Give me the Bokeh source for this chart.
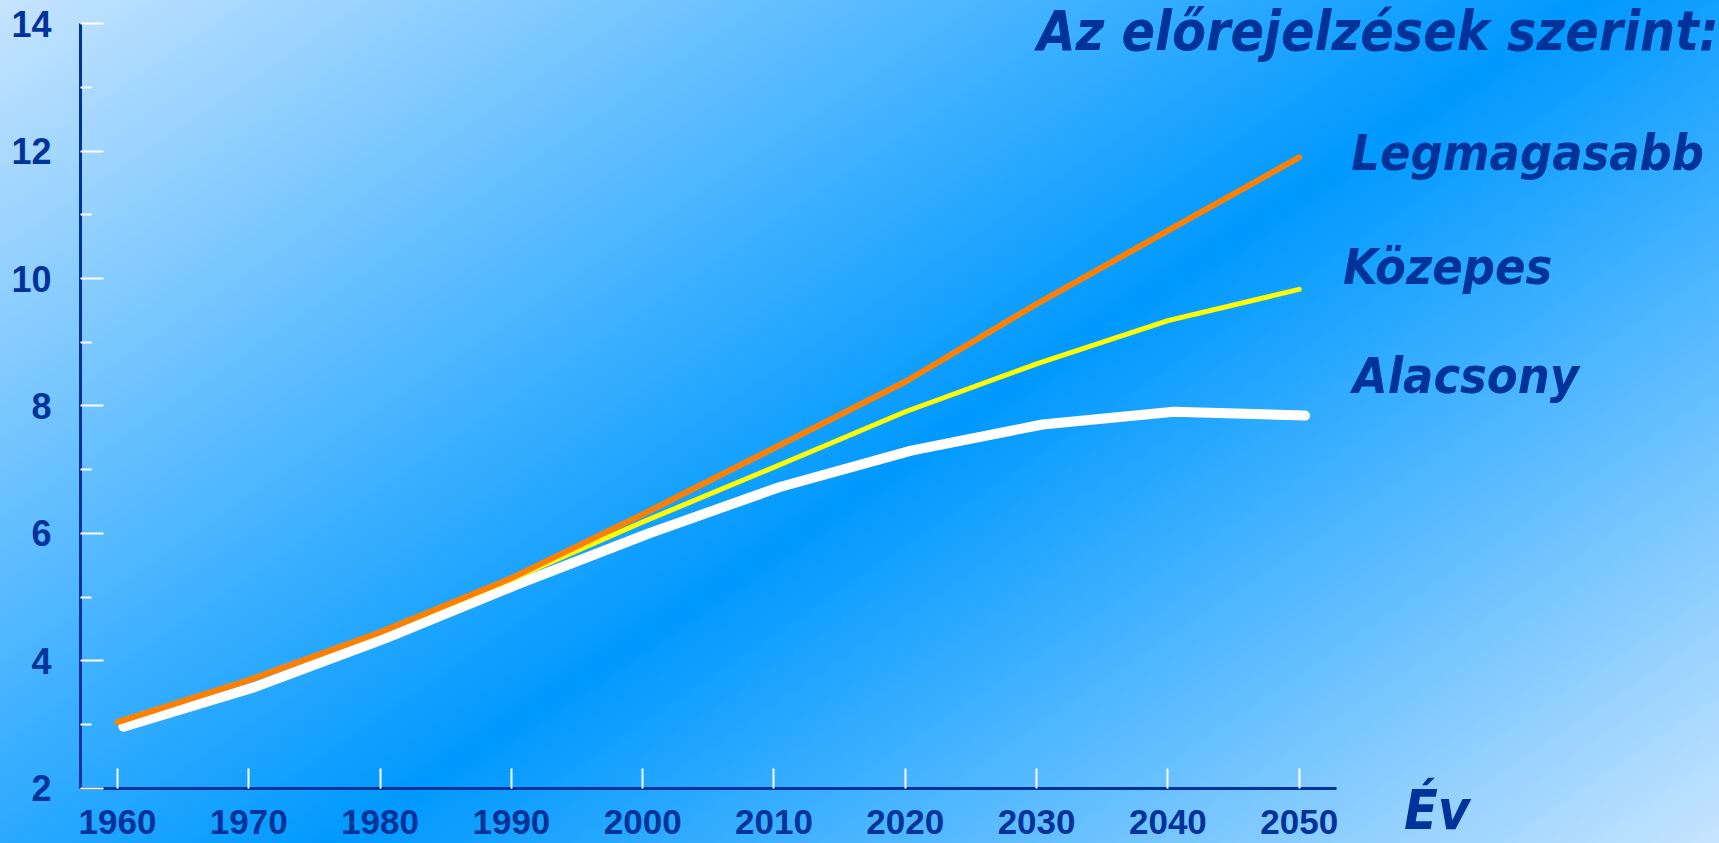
from bokeh.plotting import figure
from bokeh.models import Range1d, FixedTicker, Label, ColumnDataSource
from bokeh.transform import dodge
from bokeh.embed import file_html
from bokeh.resources import INLINE

# ---- data (world population, billions) ----
years = [1960, 1970, 1980, 1990, 2000, 2010, 2020, 2030, 2040, 2050]
legmagasabb = [3.04, 3.70, 4.45, 5.30, 6.30, 7.34, 8.38, 9.60, 10.75, 11.90]
kozepes = [3.04, 3.70, 4.45, 5.28, 6.18, 7.04, 7.91, 8.66, 9.34, 9.83]
alacsony = [2.97, 3.59, 4.36, 5.20, 6.00, 6.73, 7.30, 7.71, 7.91, 7.85]
y_ticks = [2, 4, 6, 8, 10, 12, 14]
y_minor_ticks = [3, 5, 7, 9, 11, 13]
title_text = "Az előrejelzések szerint:"
label_high = "Legmagasabb"
label_mid = "Közepes"
label_low = "Alacsony"
x_title = "Év"

BLUE = "#003399"
W, H = 1719, 843
LABEL_FONT = "DejaVu Sans Condensed, DejaVu Sans"

# axis extents (data units)
X_AXIS_START, X_AXIS_END = 1957.18, 2052.83
Y_AXIS_START, Y_AXIS_END = 2, 14

p = figure(width=W, height=H, output_backend="svg", toolbar_location=None,
           x_range=Range1d(1951.09, 2082.01), y_range=Range1d(1.137, 14.361),
           min_border=0,
           background_fill_color=None, border_fill_color=None)
p.outline_line_color = None
p.grid.visible = False
p.styles = {
    "position": "absolute", "left": "0px", "top": "0px",
    "background-image": "linear-gradient(146deg, #c6e4ff 0%, #0099ff 53.5%, #c6e4ff 100%)",
}

for ax in (p.xaxis[0], p.yaxis[0]):
    ax.axis_line_color = BLUE
    ax.axis_line_width = 3
    ax.major_tick_line_color = "white"
    ax.major_tick_line_width = 2
    ax.major_tick_out = 0
    ax.minor_tick_out = 0
    ax.major_label_text_font = "Liberation Sans"
    ax.major_label_text_font_style = "bold"
    ax.major_label_text_color = BLUE

xa = p.xaxis[0]
xa.fixed_location = Y_AXIS_START
xa.bounds = (X_AXIS_START, X_AXIS_END)
xa.ticker = FixedTicker(ticks=years, minor_ticks=[])
xa.major_tick_in = 20
xa.minor_tick_line_color = None
xa.major_label_text_font_size = "35px"
xa.major_label_standoff = 22

ya = p.yaxis[0]
ya.fixed_location = X_AXIS_START
ya.bounds = (Y_AXIS_START, Y_AXIS_END)
ya.ticker = FixedTicker(ticks=y_ticks, minor_ticks=y_minor_ticks)
ya.major_tick_in = 23
ya.minor_tick_in = 11
ya.minor_tick_line_color = "white"
ya.minor_tick_line_width = 2
ya.major_label_text_font_size = "36px"
ya.major_label_standoff = 29

src = ColumnDataSource(dict(year=years, high=legmagasabb, mid=kozepes, low=alacsony))
p.line(x=dodge("year", 0.45, range=p.x_range), y="low", source=src,
       line_color="white", line_width=10, line_cap="round", line_join="round")
p.line(x="year", y="mid", source=src,
       line_color="#ffff00", line_width=5, line_cap="round", line_join="round")
p.line(x="year", y="high", source=src,
       line_color="#ff8000", line_width=6, line_cap="round", line_join="round")


def add_label(text, x, y, size):
    p.add_layout(Label(x=x, y=y, text=text, text_font=LABEL_FONT,
                       text_font_style="bold italic", text_font_size=size,
                       text_color=BLUE, text_align="center",
                       text_baseline="alphabetic"))


add_label(title_text, 2056.0, 13.89, "55px")
add_label(label_high, 2067.4, 11.961, "50px")
add_label(label_mid, 2061.3, 10.188, "50px")
add_label(label_low, 2062.7, 8.463, "50px")
add_label(x_title, 2060.5, 1.655, "55px")

open("out.html", "w").write(file_html(p, INLINE))
